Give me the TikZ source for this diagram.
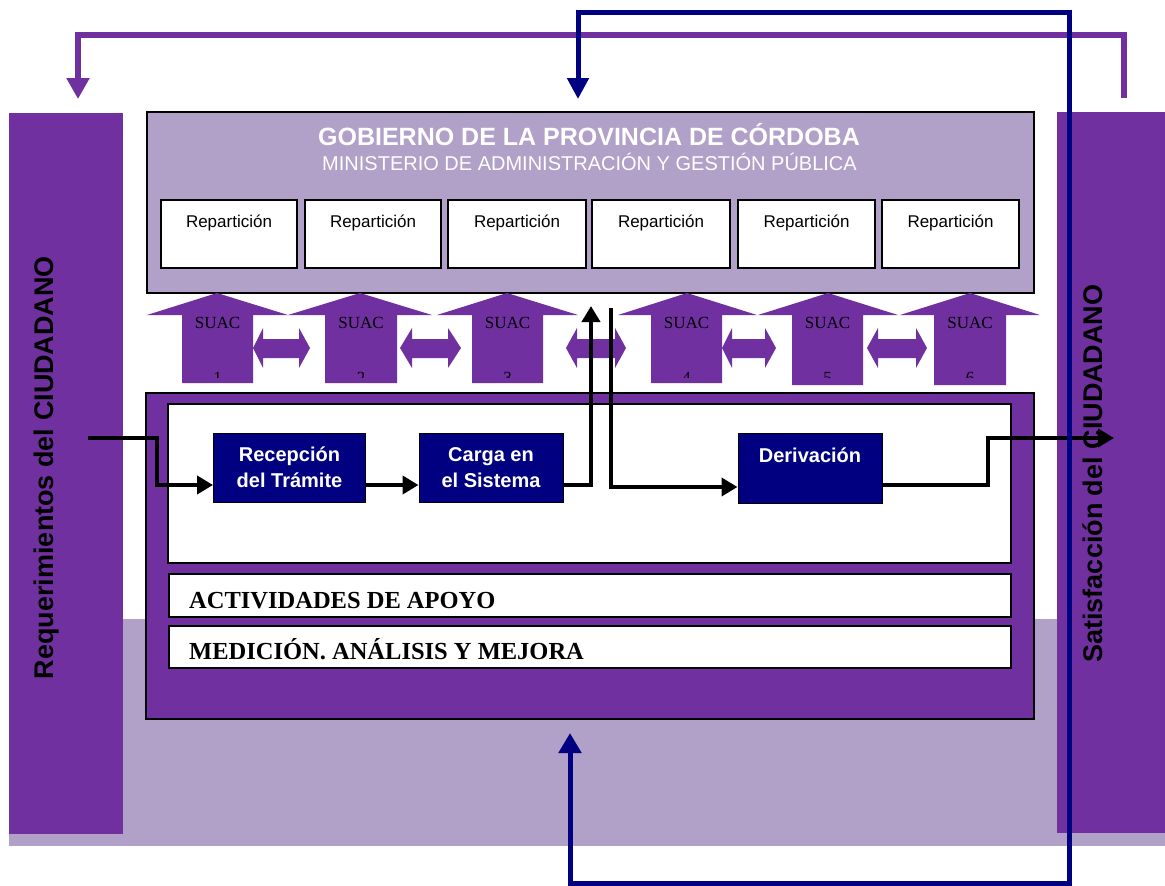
\documentclass[tikz,border=0pt]{standalone}
\usepackage{fontspec}
\setmainfont{Liberation Serif}
\setsansfont{Liberation Sans}
\usetikzlibrary{arrows.meta}
\definecolor{pur}{HTML}{7030A0}
\definecolor{lpur}{HTML}{B1A0C7}
\definecolor{nav}{HTML}{000080}
\tikzset{
  colbox/.style={fill=pur, inner sep=0pt},
  govbox/.style={draw=black, line width=2pt, fill=lpur, inner sep=0pt},
  repbox/.style={draw=black, line width=2pt, fill=white, inner sep=0pt},
  reptext/.style={anchor=base, inner sep=0pt, font=\sffamily\fontsize{17}{20}\selectfont},
  titletext/.style={anchor=base, inner sep=0pt, text=white, font=\sffamily\bfseries\fontsize{25}{30}\selectfont},
  subtext/.style={anchor=base, inner sep=0pt, text=white, font=\sffamily\fontsize{20}{24}\selectfont},
  suactext/.style={anchor=base, inner sep=0pt, font=\rmfamily\fontsize{17}{20}\selectfont},
  numtext/.style={anchor=north, inner sep=0pt, font=\rmfamily\fontsize{17}{20}\selectfont},
  procbox/.style={draw=black, line width=2pt, fill=pur, inner sep=0pt},
  whitebox/.style={draw=black, line width=2pt, fill=white, inner sep=0pt},
  bandtext/.style={anchor=base west, inner sep=0pt, font=\rmfamily\bfseries\fontsize{24.5}{28}\selectfont},
  navbox/.style={draw=black, line width=1pt, fill=nav, text=white, align=center, inner sep=0pt,
    font=\sffamily\bfseries\fontsize{20}{26}\selectfont},
  sidetext/.style={rotate=90, anchor=base, inner sep=0pt, font=\sffamily\bfseries\fontsize{27}{30}\selectfont},
  flow/.style={draw=black, line width=4.5pt, line join=miter},
  flowtip/.style={-{Triangle[length=16pt,width=18pt]}},
  purline/.style={draw=pur, line width=6pt, line join=miter, -{Triangle[length=21pt,width=22pt]}},
  navline/.style={draw=nav, line width=5pt, line join=miter,
    {Triangle[length=20pt,width=22pt]}-{Triangle[length=21pt,width=21pt]}},
}
\newcommand\suacarrow[7]{%
  \fill[pur] (#1,315) -- (#2,293) -- (#3,315) -- (#5,315) -- (#5,#6) -- (#4,#6) -- (#4,315) -- cycle;
  \node[suactext] (suac#7) at ({(#4+#5)/2},328) {SUAC};
  \begin{scope}
    \clip (#4,360) rectangle (#5,377.5);
    \node[numtext] (num#7) at ({(#4+#5)/2},372) {#7};
  \end{scope}}
\newcommand\dblarrow[4]{%
  \fill[pur] (#1,348) -- (#2,328) -- (#2,339) -- (#3,339) -- (#3,328) -- (#4,348)
    -- (#3,368) -- (#3,358) -- (#2,358) -- (#2,368) -- cycle;}
\begin{document}
\begin{tikzpicture}[x=1pt,y=-1pt]
\useasboundingbox (0,0) rectangle (1165,886);
% background band
\fill[lpur] (9,619) rectangle (1165,846);
% side columns
\node[colbox, minimum width=114pt, minimum height=721pt] (lcol) at (66,473.5) {};
\node[colbox, minimum width=108pt, minimum height=721pt] (rcol) at (1111,472.5) {};
% government box
\node[govbox, minimum width=887pt, minimum height=181pt] (gov) at (590.5,202.5) {};
\node[titletext] (title) at (589,145) {GOBIERNO DE LA PROVINCIA DE CÓRDOBA};
\node[subtext] (subtitle) at (589.5,170) {MINISTERIO DE ADMINISTRACIÓN Y GESTIÓN PÚBLICA};
\foreach \i/\a/\b in {1/161/297, 2/305/441, 3/448/586, 4/592/730, 5/738/875, 6/882/1019}{
  \node[repbox, minimum width={(\b-\a)*1pt}, minimum height=68pt] (rep\i) at ({(\a+\b)/2},234) {};
  \node[reptext] (rept\i) at ({(\a+\b)/2},227) {Repartición};
}
% SUAC arrows
\suacarrow{147}{217}{288}{182}{253}{383}{1}
\suacarrow{288}{360}{432}{325}{397}{383}{2}
\suacarrow{437}{507}{578}{472}{543}{383}{3}
\suacarrow{618}{687}{757}{651}{722}{383}{4}
\suacarrow{758}{828}{898}{792}{863}{385}{5}
\suacarrow{900}{970}{1040}{934}{1006}{385}{6}
\dblarrow{253}{263}{299}{310}
\dblarrow{400}{412}{448}{461}
\dblarrow{566}{577}{615}{626}
\dblarrow{722}{732}{765}{776}
\dblarrow{867}{878}{916}{927}
% process box
\node[procbox, minimum width=888pt, minimum height=326pt] (proc) at (590,556) {};
\node[whitebox, minimum width=843pt, minimum height=159pt] (flowarea) at (589.5,483.5) {};
\node[whitebox, minimum width=842pt, minimum height=43pt] (act) at (590,595.5) {};
\node[whitebox, minimum width=842pt, minimum height=42pt] (med) at (590,647) {};
\node[bandtext] (actt) at (189,608) {ACTIVIDADES DE APOYO};
\node[bandtext] (medt) at (189,659) {MEDICIÓN. ANÁLISIS Y MEJORA};
\node[navbox, minimum width=152pt, minimum height=69pt] (rec) at (289.5,467.5) {Recepción\\del Trámite};
\node[navbox, minimum width=144pt, minimum height=69pt] (carga) at (491,467.5) {Carga en\\el Sistema};
\node[navbox, minimum width=144pt, minimum height=70pt] (der) at (810,468) {Derivación\\\phantom{X}};
% side texts
\node[sidetext] (ltext) at (53,467.5) {Requerimientos del CIUDADANO};
\node[sidetext] (rtext) at (1102,473.5) {Satisfacción del CIUDADANO};
% flow lines
\coordinate (inL) at (88,438);
\coordinate (jog) at (157,485);
\coordinate (upTip) at (591,306);
\coordinate (downTop) at (611,308);
\coordinate (turn) at (988,438);
\coordinate (outR) at (1114,438);
\draw[flow, flowtip] (inL) -| (jog) -- ([yshift=-17.5pt]rec.west);
\draw[flow, flowtip] ([yshift=-17.5pt]rec.east) -- ([yshift=-17.5pt]carga.west);
\draw[flow, flowtip] ([yshift=-17.5pt]carga.east) -| (upTip);
\draw[flow, flowtip] (downTop) |- ([yshift=-19pt]der.west);
\draw[flow, flowtip] ([yshift=-17pt]der.east) -| (turn) -- (outR);
% feedback loops
\coordinate (pStart) at (1124,98);
\coordinate (pCorner) at (78,35);
\coordinate (pEnd) at (78,99);
\draw[purline] (pStart) |- (pCorner) -- (pEnd);
\coordinate (nStart) at (570,733);
\coordinate (nC1) at (570,883);
\coordinate (nC2) at (1069,12);
\coordinate (nC3) at (578,12);
\coordinate (nEnd) at (578,99);
\draw[navline] (nStart) -- (nC1) -| (nC2) -- (nC3) -- (nEnd);
\end{tikzpicture}
\end{document}
